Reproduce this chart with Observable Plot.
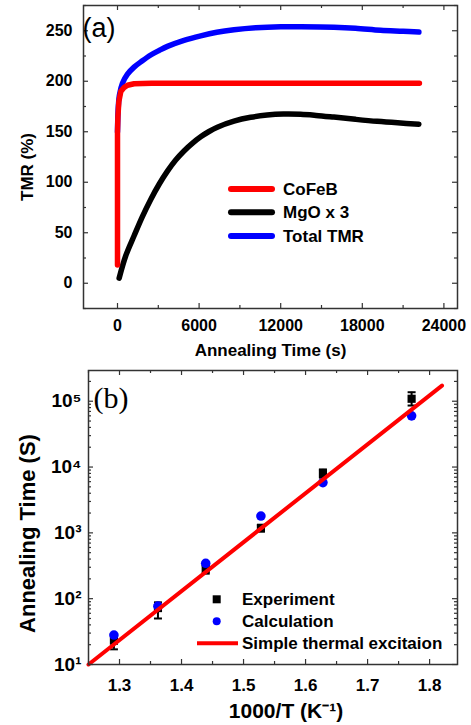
<!DOCTYPE html>
<html><head><meta charset="utf-8">
<script src="https://cdn.jsdelivr.net/npm/d3@7"></script>
<script src="https://cdn.jsdelivr.net/npm/@observablehq/plot@0.6"></script>
<style>
html,body{margin:0;padding:0;background:#fff;}
#chart{width:471px;}
#chart svg{display:block;}
</style></head><body><div id="chart"></div>
<script>
// ---------- Panel (a) data ----------
const cofebTime = [0, 0, 0, 30, 100, 245, 500, 734, 1220, 2500, 6000, 12000, 18000, 22200];
const cofebTMR  = [18, 100, 150, 165, 180, 190, 194, 196, 197.5, 198, 198, 198, 198, 198];
const mgoTime = [120, 600, 1220, 1830, 2445, 3060, 3672, 4280, 4890, 5500, 6118, 6700, 7340, 8566, 9790, 11000, 12200, 13460, 14600, 15910, 17500, 19090, 20600, 22160];
const mgoTMR  = [5, 27, 47, 66, 83, 98, 111, 122, 131, 138.5, 145, 150, 154.5, 160.5, 164.3, 166.5, 167.5, 167.3, 166.2, 164.5, 162.3, 160.3, 158.8, 157.5];
const totalTime = [0, 60, 150, 365, 734, 1220, 1800, 2445, 3060, 3672, 4890, 6118, 7300, 8566, 10160, 12000, 13500, 15910, 17500, 19340, 21000, 22160];
const totalTMR  = [150, 175, 187, 198, 207, 214, 220, 226, 230.5, 234.5, 240.5, 245, 248.5, 251, 253, 254, 254, 253.5, 252.5, 250.5, 249.5, 248.7];
const seriesA = ["CoFeB", "MgO x 3", "Total TMR"];
const xTicksA = [0, 6000, 12000, 18000, 24000];
const xMinorA = [3000, 9000, 15000, 21000];
const yTicksA = [0, 50, 100, 150, 200, 250];
const yMinorA = [-25, 25, 75, 125, 175, 225, 275];

// ---------- Panel (b) data ----------
const invT     = [1.291, 1.362, 1.439, 1.528, 1.628, 1.771];
const expTime  = [23, 72, 280, 1170, 8000, 109000];
const expLow   = [17, 50, 240, 1050, 6900, 86000];
const expHigh  = [29, 88, 320, 1330, 9200, 137000];
const calcTime = [28, 77, 345, 1800, 5800, 60000];
const fitInvT  = [1.25, 1.82];
const fitTime  = [10, 173000];
const seriesB = ["Experiment", "Calculation", "Simple thermal excitaion"];
const xTicksB = [1.3, 1.4, 1.5, 1.6, 1.7, 1.8];
const xMinorB = [1.25, 1.35, 1.45, 1.55, 1.65, 1.75];
const yTicksB = [10, 100, 1000, 10000, 100000];

const FONT = "'Liberation Sans', Arial, sans-serif";
const RED = "#ff0000", BLUE = "#0000ff", BLACK = "#000000", AX = "#333";
const W = 471;

function frameTicks(xMaj, xMin, yMaj, yMin, iw, ih) {
  const s = {stroke: AX, strokeWidth: 1.2};
  const out = [];
  for (const [arr, len] of [[xMaj, 5], [xMin, 3]]) {
    out.push(Plot.tickX(arr, {x: d => d, insetTop: ih - len, ...s}));
    out.push(Plot.tickX(arr, {x: d => d, insetBottom: ih - len, ...s}));
  }
  for (const [arr, len] of [[yMaj, 5], [yMin, 3]]) {
    out.push(Plot.tickY(arr, {y: d => d, insetRight: iw - len, ...s}));
    out.push(Plot.tickY(arr, {y: d => d, insetLeft: iw - len, ...s}));
  }
  return out;
}

// ---------- Panel (a) ----------
const HA = 362, mA = {top: 5, right: 14, bottom: 54, left: 83};
const iwA = W - mA.left - mA.right, ihA = HA - mA.top - mA.bottom;
const cofeb = cofebTime.map((t, i) => ({t, v: cofebTMR[i]}));
const mgo = mgoTime.map((t, i) => ({t, v: mgoTMR[i]}));
const total = totalTime.map((t, i) => ({t, v: totalTMR[i]}));

const plotA = Plot.plot({
  width: W, height: HA,
  marginTop: mA.top, marginRight: mA.right, marginBottom: mA.bottom, marginLeft: mA.left,
  style: {fontFamily: FONT, background: "white", color: "black"},
  x: {domain: [-2500, 25000]},
  y: {domain: [-25, 275]},
  marks: [
    Plot.line(total, {x: "t", y: "v", stroke: BLUE, strokeWidth: 5.5, strokeLinecap: "round", strokeLinejoin: "round", curve: "catmull-rom"}),
    Plot.line(mgo, {x: "t", y: "v", stroke: BLACK, strokeWidth: 5.5, strokeLinecap: "round", strokeLinejoin: "round", curve: "catmull-rom"}),
    Plot.line(cofeb, {x: "t", y: "v", stroke: RED, strokeWidth: 5.5, strokeLinecap: "round", strokeLinejoin: "round"}),
    Plot.frame({stroke: AX, strokeWidth: 1.5}),
    ...frameTicks(xTicksA, xMinorA, yTicksA, yMinorA, iwA, ihA),
    Plot.axisX({ticks: xTicksA, tickSize: 0, tickPadding: 11, label: null, tickFormat: d => String(d), fontSize: 16, fontWeight: "bold"}),
    Plot.axisY({ticks: yTicksA, tickSize: 0, tickPadding: 11, label: null, tickFormat: d => String(d), fontSize: 16, fontWeight: "bold"}),
    Plot.text(["Annealing Time (s)"], {frameAnchor: "bottom", lineAnchor: "middle", textAnchor: "middle", dy: 42, text: d => d, fontSize: 17, fontWeight: "bold"}),
    Plot.text(["TMR (%)"], {frameAnchor: "left", lineAnchor: "middle", textAnchor: "middle", dx: -56, dy: 10, rotate: -90, text: d => d, fontSize: 17, fontWeight: "bold"}),
    Plot.text(["(a)"], {frameAnchor: "top-left", lineAnchor: "middle", textAnchor: "start", dx: -1, dy: 23, text: d => d, fontSize: 27})
  ]
});

// legend (a)
{
  const svg = d3.select(plotA);
  const colors = [RED, BLACK, BLUE];
  const ys = [189, 212.3, 236];
  const g = svg.append("g");
  seriesA.forEach((s, i) => {
    g.append("line").attr("x1", 231).attr("x2", 272).attr("y1", ys[i]).attr("y2", ys[i])
      .attr("stroke", colors[i]).attr("stroke-width", 6).attr("stroke-linecap", "round");
    g.append("text").attr("x", 283).attr("y", ys[i]).attr("dy", "0.35em").attr("text-anchor", "start")
      .attr("font-size", 17).attr("font-weight", "bold").attr("font-family", FONT).text(s);
  });
}

// ---------- Panel (b) ----------
const HB = 363, mB = {top: 8, right: 14, bottom: 61, left: 88};
const iwB = W - mB.left - mB.right, ihB = HB - mB.top - mB.bottom;
const yDomB = [10, 2.93e5];
const yMinorB = yTicksB.flatMap(d => [2, 3, 4, 5, 6, 7, 8, 9].map(k => k * d)).filter(v => v < yDomB[1]);
const pts = invT.map((x, i) => ({x, exp: expTime[i], lo: expLow[i], hi: expHigh[i], calc: calcTime[i]}));
const fit = fitInvT.map((x, i) => ({x, y: fitTime[i]}));
const sup = {"0":"⁰","1":"¹","2":"²","3":"³","4":"⁴","5":"⁵","6":"⁶","7":"⁷","8":"⁸","9":"⁹","-":"⁻"};
const capSymbol = {draw(ctx, size) { const r = Math.sqrt(size / Math.PI); ctx.moveTo(-r, 0); ctx.lineTo(r, 0); }};

const plotB = Plot.plot({
  width: W, height: HB,
  marginTop: mB.top, marginRight: mB.right, marginBottom: mB.bottom, marginLeft: mB.left,
  style: {fontFamily: FONT, background: "white", color: "black"},
  x: {domain: [1.25, 1.845]},
  y: {type: "log", domain: yDomB},
  marks: [
    Plot.ruleX(pts, {x: "x", y1: "lo", y2: "hi", stroke: BLACK, strokeWidth: 2}),
    Plot.dot(pts, {x: "x", y: "lo", symbol: capSymbol, r: 4, stroke: BLACK, strokeWidth: 2}),
    Plot.dot(pts, {x: "x", y: "hi", symbol: capSymbol, r: 4, stroke: BLACK, strokeWidth: 2}),
    Plot.dot(pts, {x: "x", y: "exp", symbol: "square", r: 4.6, fill: BLACK, stroke: "none"}),
    Plot.dot(pts, {x: "x", y: "calc", r: 4.8, fill: BLUE, stroke: "none"}),
    Plot.line(fit, {x: "x", y: "y", stroke: RED, strokeWidth: 4}),
    Plot.frame({stroke: AX, strokeWidth: 1.5}),
    ...frameTicks(xTicksB, xMinorB, yTicksB, yMinorB, iwB, ihB),
    Plot.axisX({ticks: xTicksB, tickSize: 0, tickPadding: 14, label: null, tickFormat: d => d.toFixed(1), fontSize: 17, fontWeight: "bold"}),
    Plot.axisY({ticks: yTicksB, tickSize: 0, tickPadding: 7, label: null,
      tickFormat: d => "10" + String(Math.round(Math.log10(d))).split("").map(c => sup[c]).join(""),
      fontSize: 19, fontWeight: "bold"}),
    Plot.text(["1000/T (K⁻¹)"], {frameAnchor: "bottom", lineAnchor: "middle", textAnchor: "middle", dx: 13, dy: 47, text: d => d, fontSize: 21, fontWeight: "bold"}),
    Plot.text(["Annealing Time (S)"], {frameAnchor: "left", lineAnchor: "middle", textAnchor: "middle", dx: -61, dy: 16, rotate: -90, text: d => d, fontSize: 22, fontWeight: "bold"}),
    Plot.text(["(b)"], {frameAnchor: "top-left", lineAnchor: "middle", textAnchor: "start", dx: 5, dy: 28, text: d => d, fontSize: 30, fontFamily: "'Liberation Serif', 'Times New Roman', serif"})
  ]
});

// legend (b)
{
  const svg = d3.select(plotB);
  const g = svg.append("g");
  const ys = [237.3, 259.3, 281.3];
  g.append("rect").attr("x", 216.7 - 4).attr("y", ys[0] - 4).attr("width", 8).attr("height", 8).attr("fill", BLACK);
  g.append("circle").attr("cx", 216.7).attr("cy", ys[1]).attr("r", 4).attr("fill", BLUE);
  g.append("line").attr("x1", 197).attr("x2", 238).attr("y1", ys[2]).attr("y2", ys[2]).attr("stroke", RED).attr("stroke-width", 4);
  seriesB.forEach((s, i) => {
    g.append("text").attr("x", 242).attr("y", ys[i]).attr("dy", "0.35em").attr("text-anchor", "start")
      .attr("font-size", 17).attr("font-weight", "bold").attr("font-family", FONT).text(s);
  });
}

const chart = document.getElementById("chart");
chart.appendChild(plotA);
chart.appendChild(plotB);
</script>
</body></html>
